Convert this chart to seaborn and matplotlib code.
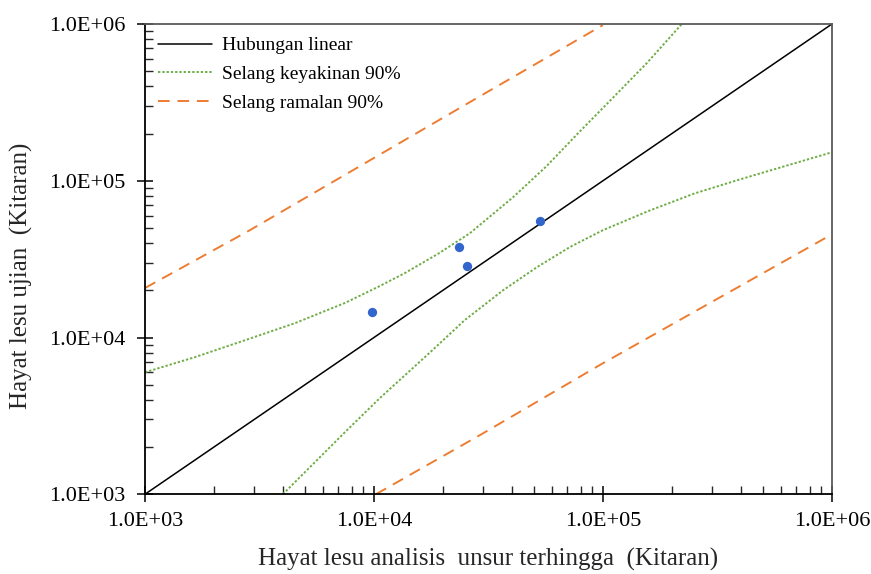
import matplotlib
matplotlib.use("Agg")
import matplotlib.pyplot as plt
import seaborn as sns
import numpy as np
import pandas as pd
from matplotlib.ticker import LogLocator, FuncFormatter, NullFormatter

# ---- data ----
fea_life = [9.84e3, 2.35e4, 2.55e4, 5.31e4]
test_life = [1.445e4, 3.79e4, 2.85e4, 5.53e4]

linear_x = [1e3, 1e6]
linear_y = [1e3, 1e6]

conf_up_x = [1.0e3, 1.65e3, 2.74e3, 4.52e3, 7.46e3, 1.04e4, 1.36e4, 1.905e4,
             2.62e4, 4.05e4, 5.69e4, 7.94e4, 1.107e5, 1.556e5, 2.21e5]
conf_up_y = [6.0e3, 7.49e3, 9.62e3, 1.235e4, 1.66e4, 2.10e4, 2.57e4, 3.42e4,
             4.62e4, 7.85e4, 1.245e5, 2.07e5, 3.39e5, 5.64e5, 1.0e6]

conf_lo_x = [4.0e3, 7.62e3, 1.06e4, 1.76e4, 2.49e4, 3.66e4, 5.15e4, 7.18e4,
             1.0e5, 1.60e5, 2.51e5, 3.96e5, 1.0e6]
conf_lo_y = [1.0e3, 2.56e3, 4.10e3, 8.05e3, 1.29e4, 2.0e4, 2.81e4, 3.78e4,
             4.84e4, 6.46e4, 8.3e4, 1.02e5, 1.52e5]

pred_up_x = [1.0e3, 2.87e3, 2.96e4, 1.0e5]
pred_up_y = [2.07e4, 4.84e4, 3.52e5, 9.86e5]

pred_lo_x = [1.02e4, 2.90e4, 1.0e5, 1.0e6]
pred_lo_y = [1.0e3, 2.38e3, 6.85e3, 4.55e4]

x_label = "Hayat lesu analisis  unsur terhingga  (Kitaran)"
y_label = "Hayat lesu ujian  (Kitaran)"
leg_linear = "Hubungan linear"
leg_conf = "Selang keyakinan 90%"
leg_pred = "Selang ramalan 90%"

# ---- style ----
sns.set_style("white")
plt.rcParams['font.family'] = ['Liberation Serif', 'DejaVu Serif']

GREEN = "#70AD47"
ORANGE = "#ED7D31"
BLUE = "#3366CC"

fig, ax = plt.subplots(figsize=(8.71, 5.74), dpi=100)
fig.subplots_adjust(left=0.1665, right=0.955, top=0.958, bottom=0.139)

sns.lineplot(x=linear_x, y=linear_y, ax=ax, color="black", linewidth=1.1,
             label=leg_linear, sort=False)
sns.lineplot(x=conf_up_x, y=conf_up_y, ax=ax, color=GREEN, linewidth=1.4,
             linestyle=(0, (1.2, 1.0)), label=leg_conf, sort=False)
sns.lineplot(x=pred_up_x, y=pred_up_y, ax=ax, color=ORANGE, linewidth=1.4,
             linestyle=(0, (6, 4)), label=leg_pred, sort=False)
sns.lineplot(x=conf_lo_x, y=conf_lo_y, ax=ax, color=GREEN, linewidth=1.4,
             linestyle=(0, (1.2, 1.0)), sort=False, legend=False)
sns.lineplot(x=pred_lo_x, y=pred_lo_y, ax=ax, color=ORANGE, linewidth=1.4,
             linestyle=(0, (6, 4)), sort=False, legend=False)
sns.scatterplot(x=fea_life, y=test_life, ax=ax, color=BLUE, s=45,
                edgecolor=BLUE, linewidth=0, zorder=5, legend=False)

ax.set_xscale("log")
ax.set_yscale("log")
ax.set_xlim(1e3, 1e6)
ax.set_ylim(1e3, 1e6)

fmt = FuncFormatter(lambda v, p: f"{v:.1E}")
for axis in (ax.xaxis, ax.yaxis):
    axis.set_major_locator(LogLocator(base=10, numticks=10))
    axis.set_minor_locator(LogLocator(base=10, subs=np.arange(2, 10), numticks=20))
    axis.set_major_formatter(fmt)
    axis.set_minor_formatter(NullFormatter())

ax.tick_params(which="major", direction="inout", length=12, width=1.1,
               labelsize=16, colors="black",
               bottom=True, left=True, top=False, right=False)
ax.tick_params(which="minor", direction="in", length=5.5, width=1.0,
               bottom=True, left=True, top=False, right=False)
ax.tick_params(axis="y", which="major", pad=8)
ax.tick_params(axis="x", which="major", pad=7)

for side in ("left", "bottom"):
    ax.spines[side].set_color("black")
    ax.spines[side].set_linewidth(1.3)
for side in ("top", "right"):
    ax.spines[side].set_color("#595959")
    ax.spines[side].set_linewidth(1.3)

ax.set_xlabel(x_label, fontsize=18, labelpad=12)
ax.set_ylabel(y_label, fontsize=18, labelpad=9)
ax.yaxis.set_label_coords(-0.163, 0.465)

leg = ax.legend(loc="upper left", frameon=False, fontsize=14,
                handlelength=2.8, handletextpad=0.5, labelspacing=0.58,
                borderaxespad=0.25, bbox_to_anchor=(0.0, 1.0))
for txt in leg.get_texts():
    txt.set_color("black")

fig.savefig("out.png", dpi=100)
